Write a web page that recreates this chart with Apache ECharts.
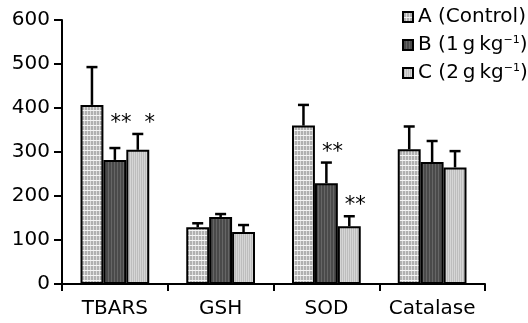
<!DOCTYPE html>
<html>
<head>
<meta charset="utf-8">
<script src="https://cdn.jsdelivr.net/npm/echarts@6/dist/echarts.min.js"></script>
<style>html,body{margin:0;padding:0;background:#fff}#c{width:528px;height:323px}</style>
</head>
<body>
<div id="c"></div>
<script>
// ---- data ----
var categories = ['TBARS', 'GSH', 'SOD', 'Catalase'];
var groupNames = ['A (Control)', 'B (1\u2009g\u2009kg−1)', 'C (2\u2009g\u2009kg−1)'];
var meanA = [407, 129, 360, 306];
var meanB = [282, 152, 229, 277];
var meanC = [305, 118, 131, 265];
var errA = [86, 9, 47, 52];
var errB = [27, 7, 47, 48];
var errC = [36, 16, 23, 37];
var sigA = ['', '', '', ''];
var sigB = ['**', '', '**', ''];
var sigC = ['*', '', '**', ''];
var yTicks = [0, 100, 200, 300, 400, 500, 600];

var means = [meanA, meanB, meanC];
var errs = [errA, errB, errC];
var sigs = [sigA, sigB, sigC];

// ---- patterns ----
function makePattern(w, h, draw) {
  var cv = document.createElement('canvas');
  cv.width = w; cv.height = h;
  draw(cv.getContext('2d'));
  return { image: cv, repeat: 'repeat' };
}
var patA = makePattern(6, 5, function (g) {
  g.fillStyle = '#b0b0b0'; g.fillRect(0, 0, 6, 5);
  g.fillStyle = '#dcdcdc'; g.fillRect(0, 0, 1, 5); g.fillRect(3, 0, 1, 5);
  g.fillStyle = '#f4f4f4'; g.fillRect(0, 0, 6, 1);
});
var patB = makePattern(3, 4, function (g) {
  g.fillStyle = '#4a4a4a'; g.fillRect(0, 0, 3, 4);
  g.fillStyle = '#666666'; g.fillRect(0, 0, 1, 4);
});
var patC = makePattern(2, 4, function (g) {
  g.fillStyle = '#bdbdbd'; g.fillRect(0, 0, 2, 4);
  g.fillStyle = '#d6d6d6'; g.fillRect(0, 0, 1, 4);
});
var pats = [patA, patB, patC];

var FONT = 'DejaVu Sans';
var CAT_GAP = 0.35;

function legendFmt(name) {
  var m = name.match(/^(.*)−1\)$/);
  if (m) return '{n|' + m[1] + '}{s|−1}{n|)}';
  return '{n|' + name + '}';
}

var series = [];
groupNames.forEach(function (nm, si) {
  series.push({
    name: nm,
    type: 'bar',
    data: means[si],
    barGap: 0,
    barCategoryGap: (CAT_GAP * 100) + '%',
    itemStyle: { color: pats[si], borderColor: '#000', borderWidth: 2 },
    z: 2
  });
});

// error bars + significance stars
var errData = [];
for (var c = 0; c < categories.length; c++) {
  for (var s = 0; s < 3; s++) {
    errData.push([c, s, means[s][c], means[s][c] + errs[s][c]]);
  }
}
series.push({
  type: 'custom',
  name: 'err',
  z: 5,
  silent: true,
  data: errData,
  encode: { x: 0, y: 3 },
  renderItem: function (params, api) {
    var c = api.value(0), s = api.value(1);
    var band = api.size([1, 0])[0];
    var bw = band * (1 - CAT_GAP) / 3;
    var center = api.coord([c, 0])[0] + (s - 1) * bw;
    var yBase = api.coord([c, api.value(2)])[1];
    var yTop = api.coord([c, api.value(3)])[1];
    var cap = 5.5;
    var children = [
      { type: 'line', shape: { x1: center, y1: yBase, x2: center, y2: yTop }, style: { stroke: '#000', lineWidth: 2.5 } },
      { type: 'line', shape: { x1: center - cap, y1: yTop, x2: center + cap, y2: yTop }, style: { stroke: '#000', lineWidth: 2.5 } }
    ];
    var star = sigs[s][c];
    if (star) {
      // align to the higher error bar of the next starred bar to the right, if any
      var level = means[s][c] + errs[s][c];
      if (s < 2 && sigs[s + 1][c]) {
        level = Math.max(level, means[s + 1][c] + errs[s + 1][c]);
      }
      var yl = api.coord([c, level])[1];
      children.push({
        type: 'text',
        style: { text: star, x: center + (star.length === 1 ? 12 : 6), y: yl, align: 'center', verticalAlign: 'bottom',
                 font: '21px "' + FONT + '"', fill: '#000' }
      });
    }
    return { type: 'group', children: children };
  }
});

var chart = echarts.init(document.getElementById('c'), null, { renderer: 'canvas' });
chart.setOption({
  animation: false,
  backgroundColor: '#fff',
  grid: { left: 62, right: 43, top: 20, bottom: 39 },
  legend: {
    data: groupNames,
    orient: 'vertical',
    left: 397,
    top: 2,
    icon: 'rect',
    itemWidth: 10,
    itemHeight: 10,
    itemGap: 8,
    formatter: legendFmt,
    textStyle: {
      fontFamily: FONT, fontSize: 20, color: '#000',
      rich: {
        n: { fontFamily: FONT, fontSize: 20, color: '#000' },
        s: { fontFamily: FONT, fontSize: 11, color: '#000', verticalAlign: 'top', padding: [0, 0, 9, 0] }
      }
    }
  },
  xAxis: {
    type: 'category',
    data: categories,
    axisLine: { lineStyle: { color: '#000', width: 2 } },
    axisTick: { show: true, length: 7, lineStyle: { color: '#000', width: 2 } },
    axisLabel: { interval: 0, fontFamily: FONT, fontSize: 20, color: '#000', margin: 15 }
  },
  yAxis: {
    type: 'value',
    min: yTicks[0],
    max: yTicks[yTicks.length - 1],
    interval: yTicks[1] - yTicks[0],
    splitLine: { show: false },
    axisLine: { show: true, lineStyle: { color: '#000', width: 2 } },
    axisTick: { show: true, length: 8, lineStyle: { color: '#000', width: 2 } },
    axisLabel: { fontFamily: FONT, fontSize: 20, color: '#000', margin: 12 }
  },
  series: series
});
</script>
</body>
</html>
